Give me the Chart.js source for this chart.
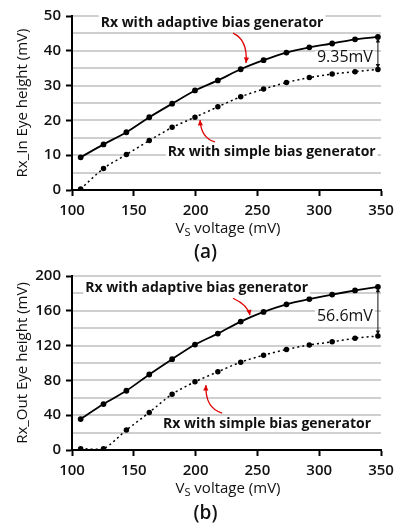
<!DOCTYPE html>
<html>
<head>
<meta charset="utf-8">
<script src="https://cdn.jsdelivr.net/npm/chart.js@4"></script>
<style>
  body { margin: 0; background: #fff; width: 395px; height: 524px; overflow: hidden; position: relative; font-family: "Open Sans", sans-serif; }
  .box { position: absolute; left: 0; width: 395px; height: 240px; }
  .cap { position: absolute; width: 395px; text-align: center; font-size: 19px; font-weight: 600; color: #111; }
</style>
</head>
<body>
<div class="box" style="top:0"><canvas id="chartA" width="395" height="240"></canvas></div>
<div class="cap" style="top:238px; left:8px; width:395px">(a)</div>
<div class="box" style="top:260px"><canvas id="chartB" width="395" height="240"></canvas></div>
<div class="cap" style="top:499px; left:8px; width:395px">(b)</div>
<script>
  // Vs voltage points (mV), shared by both plots
  const vsA = [107, 125.5, 144, 162.5, 181, 199.5, 218, 236.5, 255, 273.5, 292, 310.5, 329, 347.5];
  const vsB = [107, 125.5, 144, 162.5, 181, 199.5, 218, 236.5, 255, 273.5, 292, 310.5, 329, 347.5];

  // (a) Rx_In eye height (mV)
  const inAdaptive = [9.4, 13.1, 16.6, 20.9, 24.8, 28.6, 31.5, 34.7, 37.3, 39.5, 41.0, 42.1, 43.3, 44.0];
  const inSimple = [0.3, 6.2, 10.2, 14.2, 18.0, 20.9, 23.9, 26.8, 29.0, 30.9, 32.3, 33.3, 34.0, 34.65];

  // (b) Rx_Out eye height (mV)
  const outAdaptive = [35.6, 52.8, 68.1, 86.8, 104.4, 121.2, 133.8, 147.6, 158.7, 167.5, 173.5, 178.6, 183.4, 187.6];
  const outSimple = [1.5, 1.5, 22.9, 43.2, 64.2, 78.4, 89.9, 101.0, 109.0, 115.5, 120.8, 124.3, 128.5, 131.0];

  const xTicks = [100, 150, 200, 250, 300, 350];
  const gapA = "9.35mV";
  const gapB = "56.6mV";

  const FONT = '"Open Sans", sans-serif';

  function pts(xs, ys) {
    let out = [];
    for (let i = 0; i < xs.length; i++) {
      out.push({x: xs[i], y: ys[i]});
    }
    return out;
  }

  function arrowHead(ctx, x, y, ang, size) {
    ctx.beginPath();
    ctx.moveTo(x, y);
    ctx.lineTo(x - size * Math.cos(ang - 0.45), y - size * Math.sin(ang - 0.45));
    ctx.lineTo(x - size * Math.cos(ang + 0.45), y - size * Math.sin(ang + 0.45));
    ctx.closePath();
    ctx.fill();
  }

  // light horizontal grid from the y scale's own ticks
  const gridLines = {
    id: "gridLines",
    beforeDatasetsDraw(chart) {
      let ctx = chart.ctx;
      let sy = chart.scales.y;
      let area = chart.chartArea;
      ctx.save();
      ctx.strokeStyle = "#cfcfcf";
      ctx.lineWidth = 2;
      sy.ticks.forEach(t => {
        let y = Math.round(sy.getPixelForValue(t.value));
        if (t.value === sy.min) return;
        ctx.beginPath();
        ctx.moveTo(area.left + 1, y);
        ctx.lineTo(area.right, y);
        ctx.stroke();
      });
      ctx.restore();
    }
  };

  // annotations: labels, red curved arrows, gap marker, axis titles
  function makeNotes(cfg) {
    return {
      id: "notes",
      afterDatasetsDraw(chart) {
        let ctx = chart.ctx;
        let sx = chart.scales.x, sy = chart.scales.y;
        let px = v => sx.getPixelForValue(v);
        let py = v => sy.getPixelForValue(v);
        ctx.save();

        // bold labels with white box
        ctx.font = "bold 14px " + FONT;
        ctx.textAlign = "center";
        ctx.textBaseline = "middle";
        cfg.labels.forEach(l => {
          let w = ctx.measureText(l.text).width;
          ctx.fillStyle = "#fff";
          ctx.fillRect(px(l.x) - w / 2 - 2, py(l.y) - 8, w + 4, 16);
          ctx.fillStyle = "#111";
          ctx.fillText(l.text, px(l.x), py(l.y));
        });

        // red arrows
        ctx.strokeStyle = "#e00000";
        ctx.fillStyle = "#e00000";
        ctx.lineWidth = 1.3;
        cfg.arrows.forEach(a => {
          let x0 = px(a[0]), y0 = py(a[1]), cx = px(a[2]), cy = py(a[3]), x1 = px(a[4]), y1 = py(a[5]);
          ctx.beginPath();
          ctx.moveTo(x0, y0);
          ctx.quadraticCurveTo(cx, cy, x1, y1);
          ctx.stroke();
          arrowHead(ctx, x1, y1, Math.atan2(y1 - cy, x1 - cx), 6);
        });

        // gap marker
        let g = cfg.gap;
        let gx = px(g.x), gTop = py(g.top), gBot = py(g.bottom);
        let gy = py(g.textY);
        ctx.font = "16px " + FONT;
        let tw = ctx.measureText(g.text).width;
        ctx.fillStyle = "#fff";
        ctx.fillRect(gx - tw - 7, gy - 6, tw + 4, 12);
        ctx.fillStyle = "#111";
        ctx.textAlign = "right";
        ctx.fillText(g.text, gx - 5, gy);
        ctx.strokeStyle = "#111";
        ctx.lineWidth = 1;
        ctx.beginPath();
        ctx.moveTo(gx, gTop + 2);
        ctx.lineTo(gx, gBot - 2);
        ctx.stroke();
        arrowHead(ctx, gx, gTop + 1, -Math.PI / 2, 5);
        arrowHead(ctx, gx, gBot - 1, Math.PI / 2, 5);

        // y title
        ctx.font = "15px " + FONT;
        ctx.textAlign = "center";
        ctx.save();
        ctx.translate(23, (chart.chartArea.top + chart.chartArea.bottom) / 2);
        ctx.rotate(-Math.PI / 2);
        ctx.fillText(cfg.yTitle, 0, 0);
        ctx.restore();

        // x title with subscript S
        let ty = chart.chartArea.bottom + 39;
        let partV = "V", partS = "S", rest = " voltage (mV)";
        ctx.font = "15px " + FONT;
        let wV = ctx.measureText(partV).width;
        let wR = ctx.measureText(rest).width;
        ctx.font = "11px " + FONT;
        let wS = ctx.measureText(partS).width;
        let start = 228 - (wV + wS + wR) / 2;
        ctx.textAlign = "left";
        ctx.font = "15px " + FONT;
        ctx.fillText(partV, start, ty);
        ctx.font = "11px " + FONT;
        ctx.fillText(partS, start + wV, ty + 4);
        ctx.font = "15px " + FONT;
        ctx.fillText(rest, start + wV + wS, ty);
        ctx.restore();
      }
    };
  }

  function makeChart(id, xs, adaptive, simple, yMax, yStep, notes) {
    let ctx = document.getElementById(id).getContext("2d");
    return new Chart(ctx, {
      type: "line",
      data: {
        datasets: [{
          label: "Rx with adaptive bias generator",
          data: pts(xs, adaptive),
          borderColor: "#000",
          backgroundColor: "#000",
          borderWidth: 1.8,
          pointRadius: 2,
          tension: 0.25
        }, {
          label: "Rx with simple bias generator",
          data: pts(xs, simple),
          borderColor: "#000",
          backgroundColor: "#000",
          borderWidth: 1.5,
          borderDash: [2, 3],
          pointRadius: 2,
          tension: 0.25
        }]
      },
      options: {
        responsive: false,
        animation: false,
        layout: { padding: { top: 16, right: 14, left: 0, bottom: 0 } },
        plugins: { legend: { display: false }, tooltip: { enabled: false } },
        scales: {
          x: {
            type: "linear",
            min: 100,
            max: 350,
            afterBuildTicks: s => { s.ticks = xTicks.map(v => ({value: v})); },
            afterFit: s => { s.height = 50; s.paddingLeft = 0; s.paddingRight = 0; },
            border: { color: "#000", width: 2 },
            grid: { drawOnChartArea: false, tickLength: 6, tickColor: "#000", tickWidth: 2 },
            ticks: { color: "#111", padding: 6, maxRotation: 0, autoSkip: false, font: { family: FONT, size: 15, weight: 600 } }
          },
          y: {
            min: 0,
            max: yMax,
            afterFit: s => { s.width = 72; s.paddingTop = 0; s.paddingBottom = 0; },
            border: { color: "#000", width: 2 },
            grid: {
              drawOnChartArea: false,
              tickLength: 6,
              tickWidth: 2,
              tickColor: c => (c.tick && c.tick.value % yStep === 0) ? "#000" : "rgba(0,0,0,0)"
            },
            ticks: {
              stepSize: yStep / 2,
              autoSkip: false,
              color: "#111",
              padding: 5,
              font: { family: FONT, size: 15, weight: 600 },
              callback: v => (v % yStep === 0 ? v : "")
            }
          }
        }
      },
      plugins: [gridLines, makeNotes(notes)]
    });
  }

  makeChart("chartA", vsA, inAdaptive, inSimple, 50, 10, {
    yTitle: "Rx_In Eye height (mV)",
    labels: [
      {text: "Rx with adaptive bias generator", x: 213.3, y: 48.0},
      {text: "Rx with simple bias generator", x: 261.6, y: 10.9}
    ],
    arrows: [
      [230.3, 45.1, 242.4, 43.1, 240.8, 36.5],
      [215.7, 13.8, 204.4, 14.9, 203.6, 20.1]
    ],
    gap: {x: vsA[vsA.length - 1], top: inAdaptive[inAdaptive.length - 1], bottom: inSimple[inSimple.length - 1], textY: 38.2, text: gapA}
  });

  makeChart("chartB", vsB, outAdaptive, outSimple, 200, 40, {
    yTitle: "Rx_Out Eye height (mV)",
    labels: [
      {text: "Rx with adaptive bias generator", x: 200.9, y: 185.9},
      {text: "Rx with simple bias generator", x: 257.8, y: 29.8}
    ],
    arrows: [
      [230.3, 174.4, 242.4, 166.4, 244.0, 154.9],
      [221.4, 42.5, 207.6, 48.2, 208.4, 74.6]
    ],
    gap: {x: vsB[vsB.length - 1], top: outAdaptive[outAdaptive.length - 1], bottom: outSimple[outSimple.length - 1], textY: 153.8, text: gapB}
  });
</script>
</body>
</html>
